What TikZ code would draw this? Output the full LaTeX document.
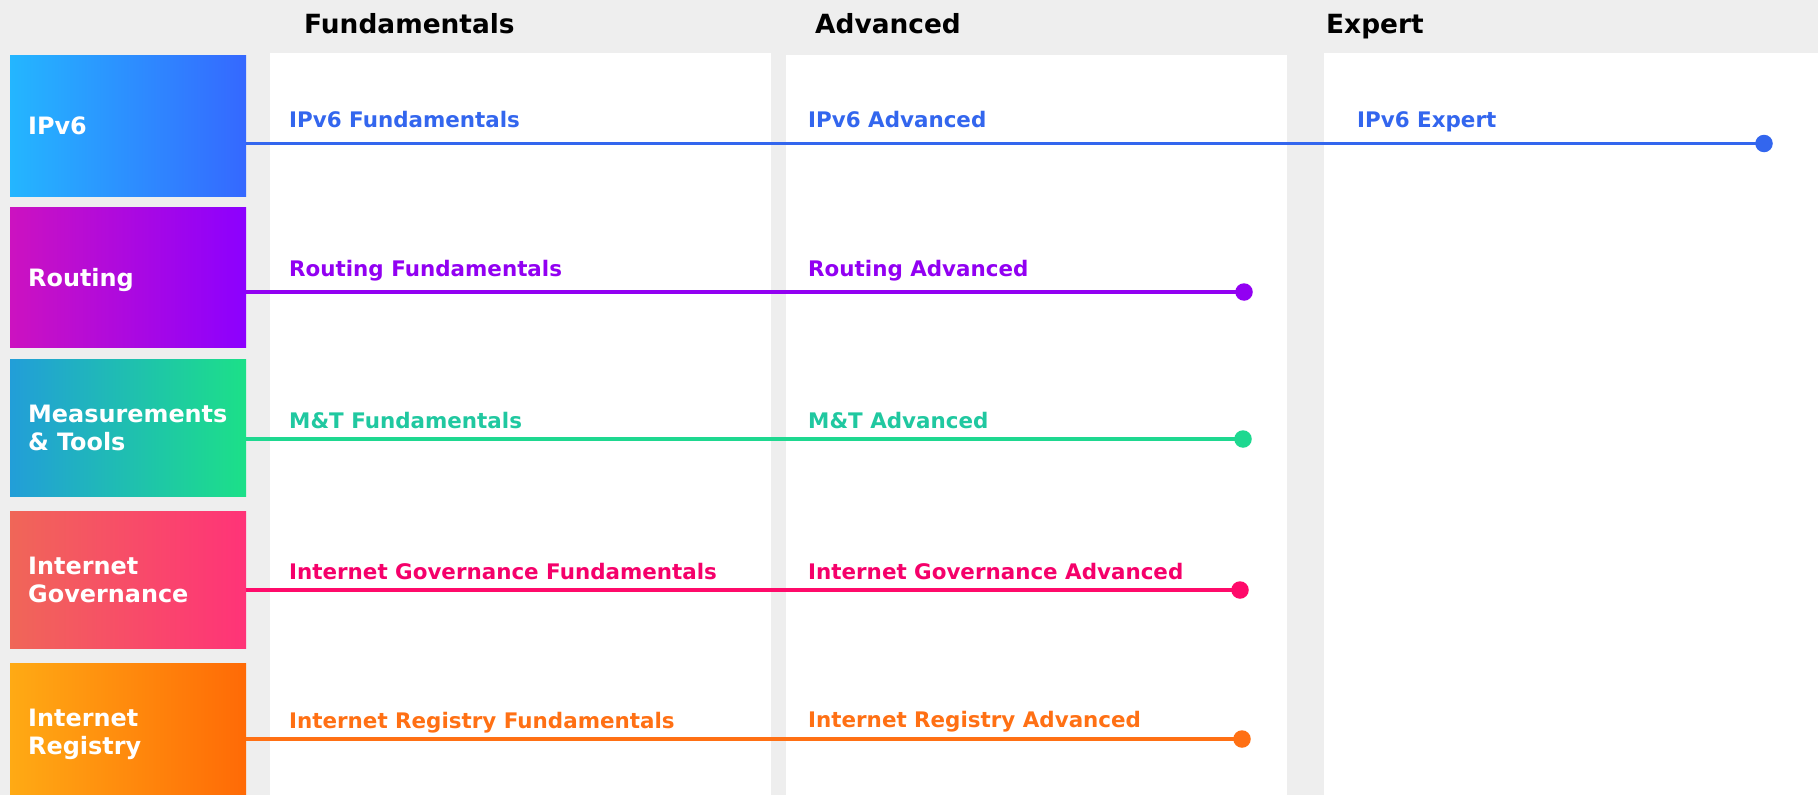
\documentclass[tikz,border=0pt]{standalone}
\usepackage{fontspec}
\setmainfont{DejaVu Sans}
\usetikzlibrary{shadings}
\definecolor{bg}{HTML}{EEEEEE}
\definecolor{cA}{HTML}{3366EE}
\definecolor{cB}{HTML}{9200F2}
\definecolor{cC}{HTML}{1ED890}
\definecolor{cCt}{HTML}{20C8A0}
\definecolor{cD}{HTML}{FF0A6A}
\definecolor{cDt}{HTML}{F5006A}
\definecolor{cE}{HTML}{FF7014}
\definecolor{gAl}{HTML}{24B6FF}
\definecolor{gAr}{HTML}{3568FF}
\definecolor{gBl}{HTML}{CC12C0}
\definecolor{gBr}{HTML}{8C00FF}
\definecolor{gCl}{HTML}{229ED8}
\definecolor{gCr}{HTML}{1CE088}
\definecolor{gDl}{HTML}{F06658}
\definecolor{gDr}{HTML}{FF3378}
\definecolor{gEl}{HTML}{FFAA14}
\definecolor{gEr}{HTML}{FF6A06}
\tikzset{
  cat/.style={anchor=north west, minimum width=235bp, text width=200bp, inner xsep=18bp, inner ysep=0pt, align=left, text=white, font=\fontsize{24}{28}\selectfont\bfseries},
  hdr/.style={anchor=base west, inner sep=0pt, font=\fontsize{26.5}{30}\selectfont\bfseries},
  lbl/.style={anchor=base west, inner sep=0pt, font=\fontsize{21.5}{26}\selectfont\bfseries},
  enddot/.style={circle, inner sep=0pt, minimum size=17.5bp},
  track/.style={line width=3.8bp},
}
\begin{document}
\begin{tikzpicture}[x=1bp,y=-1bp]
\useasboundingbox (0,0) rectangle (1818,795);
\fill[bg] (0,0) rectangle (1818,795);
\fill[white] (270,53) rectangle (771,795);
\fill[white] (786,55) rectangle (1287,795);
\fill[white] (1324,53) rectangle (1818,795);
% headers
\node[hdr] (h1) at (304,34) {Fundamentals};
\node[hdr] (h2) at (815,34) {Advanced};
\node[hdr] (h3) at (1326,34) {Expert};
% category boxes
\node[cat, minimum height=141bp, left color=gAl, right color=gAr] (b1) at (10,55) {IPv6};
\node[cat, text depth=0pt, minimum height=140bp, left color=gBl, right color=gBr] (b2) at (10,207) {Routing};
\node[cat, minimum height=137bp, left color=gCl, right color=gCr] (b3) at (10,359) {Measurements\\\& Tools};
\node[cat, minimum height=137bp, left color=gDl, right color=gDr] (b4) at (10,511) {Internet\\Governance};
\node[cat, minimum height=137bp, left color=gEl, right color=gEr] (b5) at (10,663) {Internet\\\smash{Registry}};
% end dots
\node[enddot, fill=cA] (d1) at (1764,143.5) {};
\node[enddot, fill=cB] (d2) at (1244,292) {};
\node[enddot, fill=cC] (d3) at (1243,439) {};
\node[enddot, fill=cD] (d4) at (1240,590) {};
\node[enddot, fill=cE] (d5) at (1242,739) {};
% tracks
\draw[track, cA] (b1.east |- d1) -- (d1.center);
\draw[track, cB] (b2.east |- d2) -- (d2.center);
\draw[track, cC] (b3.east |- d3) -- (d3.center);
\draw[track, cD] (b4.east |- d4) -- (d4.center);
\draw[track, cE] (b5.east |- d5) -- (d5.center);
% labels
\node[lbl, text=cA] (l1a) at (289,127) {IPv6 Fundamentals};
\node[lbl, text=cA] (l1b) at (808,127) {IPv6 Advanced};
\node[lbl, text=cA] (l1c) at (1357,127) {IPv6 Expert};
\node[lbl, text=cB] (l2a) at (289,276.5) {Routing Fundamentals};
\node[lbl, text=cB] (l2b) at (808,276.5) {Routing Advanced};
\node[lbl, text=cCt] (l3a) at (289,428.3) {M\&T Fundamentals};
\node[lbl, text=cCt] (l3b) at (808,428.3) {M\&T Advanced};
\node[lbl, text=cDt] (l4a) at (289,579.5) {Internet Governance Fundamentals};
\node[lbl, text=cDt] (l4b) at (808,579) {Internet Governance Advanced};
\node[lbl, text=cE] (l5a) at (289,728.3) {Internet Registry Fundamentals};
\node[lbl, text=cE] (l5b) at (808,727.3) {Internet Registry Advanced};
\end{tikzpicture}
\end{document}
